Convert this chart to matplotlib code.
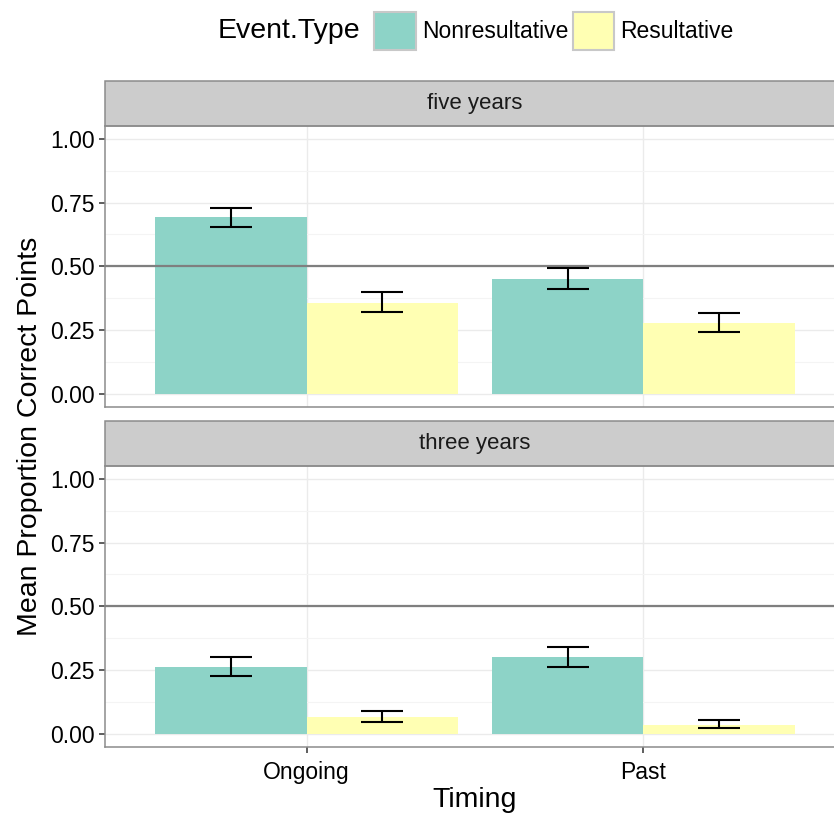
import numpy as np
import matplotlib.pyplot as plt
from matplotlib.patches import Rectangle, Patch

plt.rcParams['font.family'] = ['Liberation Sans', 'DejaVu Sans']

timing = ['Ongoing', 'Past']
event_types = ['Nonresultative', 'Resultative']
panels = ['five years', 'three years']
colors = ['#8DD3C7', '#FFFFB3']

# means and error bar limits
five_nonres = [0.693, 0.451]
five_nonres_lo = [0.654, 0.412]
five_nonres_hi = [0.729, 0.493]
five_res = [0.358, 0.280]
five_res_lo = [0.320, 0.244]
five_res_hi = [0.399, 0.319]

three_nonres = [0.264, 0.302]
three_nonres_lo = [0.227, 0.264]
three_nonres_hi = [0.302, 0.341]
three_res = [0.068, 0.036]
three_res_lo = [0.047, 0.022]
three_res_hi = [0.091, 0.056]

data = {
    'five years': [(five_nonres, five_nonres_lo, five_nonres_hi),
                   (five_res, five_res_lo, five_res_hi)],
    'three years': [(three_nonres, three_nonres_lo, three_nonres_hi),
                    (three_res, three_res_lo, three_res_hi)],
}

W, H = 834, 816
fig = plt.figure(figsize=(W / 100, H / 100), dpi=100)

left_px, width_px = 104.5, 741
panel_px = [(126, 406.75), (466, 746.75)]
strip_h = 45

axes = []
for i, name in enumerate(panels):
    top, bot = panel_px[i]
    ax = fig.add_axes([left_px / W, 1 - bot / H, width_px / W, (bot - top) / H])
    axes.append(ax)
    x = np.arange(1, len(timing) + 1)
    for j, (vals, lo, hi) in enumerate(data[name]):
        vals = np.array(vals)
        xs = x + (j - 0.5) * 0.45
        ax.bar(xs, vals, width=0.45, color=colors[j], zorder=2)
        ax.errorbar(xs, vals, yerr=[vals - np.array(lo), np.array(hi) - vals],
                    fmt='none', ecolor='black', elinewidth=1.5, capthick=1.5,
                    capsize=15, zorder=4)
    ax.axhline(0.5, color='#7F7F7F', lw=1.6, zorder=3)
    ax.set_xlim(0.4, 2.6)
    ax.set_ylim(-0.05, 1.05)
    ax.set_yticks([0, 0.25, 0.5, 0.75, 1.0])
    ax.set_yticklabels(['0.00', '0.25', '0.50', '0.75', '1.00'])
    ax.set_yticks([0.125, 0.375, 0.625, 0.875], minor=True)
    ax.set_xticks(x)
    ax.grid(which='major', color='#EBEBEB', lw=1.0, zorder=0)
    ax.grid(which='minor', axis='y', color='#F4F4F4', lw=0.8, zorder=0)
    ax.set_axisbelow(True)
    for s in ax.spines.values():
        s.set_color('#8C8C8C')
        s.set_linewidth(1.1)
    ax.tick_params(axis='both', which='major', length=4, width=1.1,
                   color='#333333', labelsize=16.5, labelcolor='black', pad=3)
    ax.tick_params(axis='both', which='minor', length=0)
    # facet strip
    sh = strip_h / (bot - top)
    ax.add_patch(Rectangle((0, 1), 1, sh, transform=ax.transAxes, clip_on=False,
                           facecolor='#CCCCCC', edgecolor='#8C8C8C', lw=1.1))
    ax.text(0.5, 1 + sh / 2, name, transform=ax.transAxes, ha='center',
            va='center', fontsize=16, color='#1A1A1A')

axes[0].tick_params(axis='x', length=0, labelbottom=False)
axes[1].set_xticklabels(timing)
axes[1].tick_params(axis='x', pad=6)

fig.text(475 / W, 1 - 800 / H, 'Timing', ha='center', va='center', fontsize=20.5)
fig.text(30 / W, 1 - 436 / H, 'Mean Proportion Correct Points', ha='center',
         va='center', rotation=90, fontsize=20.5)

# legend on top
fig.text(218 / W, 1 - 31 / H, 'Event.Type', ha='left', va='center', fontsize=20.5)
handles = [Patch(facecolor=c, edgecolor='#C8C8C8', linewidth=1.5) for c in colors]
fig.legend(handles, event_types, loc='center left', bbox_to_anchor=(363 / W, 1 - 31 / H),
           ncol=2, frameon=False, fontsize=16.5, handlelength=1.8, handleheight=2.2,
           handletextpad=0.26, columnspacing=0.22, borderpad=0)

fig.savefig('out.png', dpi=100)
